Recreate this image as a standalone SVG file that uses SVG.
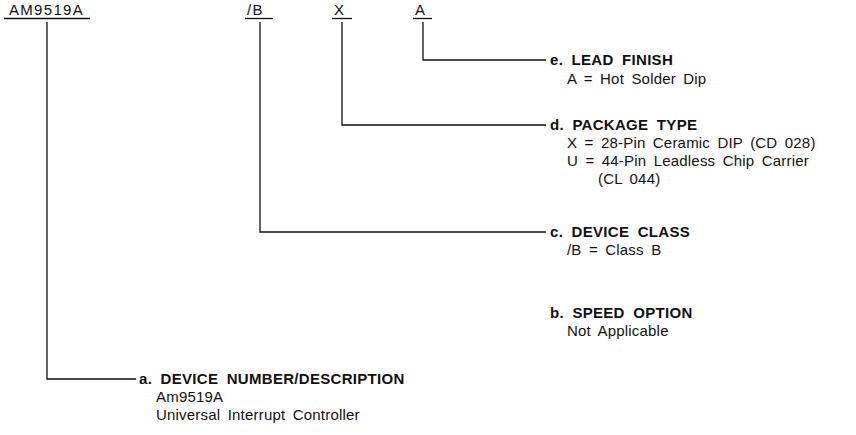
<svg xmlns="http://www.w3.org/2000/svg" width="856" height="435" viewBox="0 0 856 435">
<style>
text{font-family:"Liberation Sans",Arial,sans-serif;font-size:15px;fill:#111}
.h{font-weight:bold;word-spacing:4px;letter-spacing:0.3px}
.t{word-spacing:3px;letter-spacing:0.2px}
.code{letter-spacing:1.3px}
line,path{stroke:#111;stroke-width:1.3;fill:none}
</style>
<rect width="856" height="435" fill="#fff"/>
<g id="codes">
<g id="code-device"><text class="code" x="9" y="15">AM9519A</text><line x1="4" y1="18.5" x2="90" y2="18.5"/></g>
<g id="code-class"><text class="code" x="247" y="15">/B</text><line x1="245" y1="18.5" x2="273" y2="18.5"/></g>
<g id="code-package"><text class="code" x="334" y="15">X</text><line x1="332" y1="18.5" x2="352" y2="18.5"/></g>
<g id="code-finish"><text class="code" x="415" y="15">A</text><line x1="413" y1="18.5" x2="432" y2="18.5"/></g>
</g>
<g id="connectors">
<path d="M423,22 V60 H546"/>
<path d="M342,22 V125 H546"/>
<path d="M260,22 V232 H546"/>
<path d="M47,22 V379 H136"/>
</g>
<g id="e-lead-finish">
<text class="h" x="550" y="65">e. LEAD FINISH</text>
<text class="t" x="567" y="84">A = Hot Solder Dip</text>
</g>
<g id="d-package-type">
<text class="h" x="550" y="130">d. PACKAGE TYPE</text>
<text class="t" x="567" y="148">X = 28-Pin Ceramic DIP (CD 028)</text>
<text class="t" x="567" y="166">U = 44-Pin Leadless Chip Carrier</text>
<text class="t" x="598" y="184">(CL 044)</text>
</g>
<g id="c-device-class">
<text class="h" x="550" y="237">c. DEVICE CLASS</text>
<text class="t" x="567" y="255">/B = Class B</text>
</g>
<g id="b-speed-option">
<text class="h" x="550" y="318">b. SPEED OPTION</text>
<text class="t" x="567" y="336">Not Applicable</text>
</g>
<g id="a-device-number">
<text class="h" x="139" y="384">a. DEVICE NUMBER/DESCRIPTION</text>
<text class="t" x="156" y="402">Am9519A</text>
<text class="t" x="156" y="420">Universal Interrupt Controller</text>
</g>
</svg>
